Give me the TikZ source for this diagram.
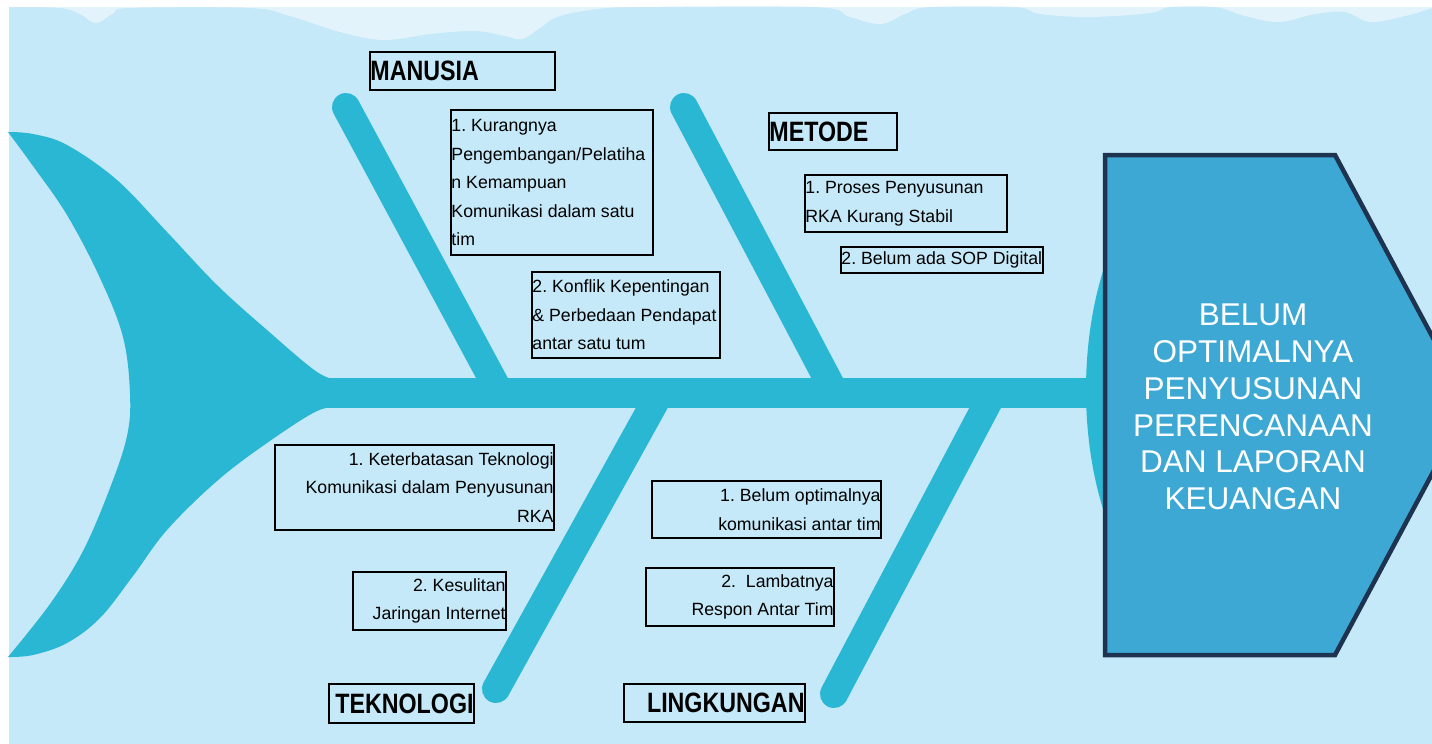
\documentclass[tikz,border=0pt]{standalone}
\usepackage{fontspec}
\setmainfont{Liberation Sans}
\newfontfamily\capfont[FakeStretch=0.83]{Liberation Sans Bold}

\definecolor{sea}{HTML}{C5E9F8}
\definecolor{foam}{HTML}{E2F3FB}
\definecolor{fishbone}{HTML}{2AB7D4}
\definecolor{headfill}{HTML}{3DA8D3}
\definecolor{headline}{HTML}{1D3350}

\tikzset{
  bone/.style={draw=fishbone, line width=28pt, line cap=round},
  frame/.style={draw=black, line width=2.5pt, inner sep=0pt},
  causetext/.style={inner xsep=1.5pt, inner ysep=0pt,
    font=\frenchspacing\fontsize{17.7}{28.5}\selectfont},
  cattext/.style={inner xsep=1.5pt, inner ysep=0pt,
    font=\capfont\fontsize{28}{30}\selectfont},
}

\begin{document}
\begin{tikzpicture}[x=1pt,y=-1pt]
\useasboundingbox (0,0) rectangle (1432,744);
\clip (0,0) rectangle (1432,744);
\fill[white] (0,0) rectangle (1432,744);
\fill[sea] (9,7) rectangle (1432,744);
\fill[foam] (9,7) -- plot[smooth,tension=0.6] coordinates {(9,7) (60,8) (80,14) (96,23) (114,13) (130,8)
  (250,8) (290,16) (340,32) (384,40) (430,34) (475,31) (505,36) (522,39) (540,28) (557,17) (590,10) (640,7)
  (815,7) (850,17) (881,24) (905,14) (930,7) (1015,7) (1040,14) (1090,17) (1150,13) (1170,7)
  (1215,7) (1245,16) (1279,22) (1315,14) (1345,12) (1370,22) (1405,16) (1432,8)} -- (1432,7) -- cycle;

% fish: head blob, tail, spine
\fill[fishbone] (1200,390) ellipse [x radius=114, y radius=226];
\fill[fishbone] (8,132)
  -- plot[smooth,tension=0.6] coordinates {(8,132) (33,134) (67,145) (117,180) (167,232) (217,285)
     (267,330) (317,372) (340,380)}
  -- (340,408)
  -- plot[smooth,tension=0.6] coordinates {(340,408) (317,411) (267,443) (217,481) (167,530) (133,576)
     (100,618) (67,643) (33,655) (8,657)}
  -- plot[smooth,tension=0.6] coordinates {(8,657) (50,604) (83,551) (110,488) (127,436) (130,394)
     (123,337) (100,278) (67,215) (33,166) (8,132)}
  -- cycle;
\fill[fishbone] (326,378) rectangle (1110,408);

\coordinate (manusiaTop) at (346,107);
\coordinate (manusiaEnd) at (500,393);
\coordinate (metodeTop) at (684,107);
\coordinate (metodeEnd) at (835,393);
\coordinate (teknologiEnd) at (660,393);
\coordinate (teknologiBot) at (496,689);
\coordinate (lingkunganEnd) at (993,393);
\coordinate (lingkunganBot) at (834,694);
\draw[bone] (manusiaTop) -- (manusiaEnd);
\draw[bone] (metodeTop) -- (metodeEnd);
\draw[bone] (teknologiEnd) -- (teknologiBot);
\draw[bone] (lingkunganEnd) -- (lingkunganBot);

% head
\filldraw[fill=headfill, draw=headline, line width=4.5pt, line join=miter]
  (1105,155) -- (1335,155) -- (1469,405) -- (1335,655) -- (1105,655) -- cycle;
\node[text=white, align=center, inner sep=0pt, font=\fontsize{31.5}{36.8}\selectfont] (effect) at (1253,407)
  {BELUM\\OPTIMALNYA\\PENYUSUNAN\\PERENCANAAN\\DAN LAPORAN\\KEUANGAN};

% categories
\node[frame, minimum width=185pt, minimum height=38pt] (manusia) at (462.5,71) {};
\node[cattext, anchor=west] (manusiaTxt) at (manusia.west) {MANUSIA};
\node[frame, minimum width=128pt, minimum height=37pt] (metode) at (833,131.5) {};
\node[cattext, anchor=west] (metodeTxt) at (metode.west) {METODE};
\node[frame, minimum width=145pt, minimum height=39pt] (teknologi) at (401.5,703.5) {};
\node[cattext, anchor=east] (teknologiTxt) at (teknologi.east) {TEKNOLOGI};
\node[frame, minimum width=181pt, minimum height=38pt] (lingkungan) at (714.5,703) {};
\node[cattext, anchor=east] (lingkunganTxt) at (lingkungan.east) {LINGKUNGAN};

% causes
\node[frame, minimum width=202pt, minimum height=145pt] (m1) at (552,182.5) {};
\node[causetext, anchor=west, align=left] (m1Txt) at (m1.west)
  {1. Kurangnya\\Pengembangan/Pelatiha\\n Kemampuan\\Komunikasi dalam satu\\tim};
\node[frame, minimum width=188pt, minimum height=86pt] (m2) at (626,315) {};
\node[causetext, anchor=west, align=left] (m2Txt) at (m2.west)
  {2. Konflik Kepentingan\\\& Perbedaan Pendapat\\antar satu tum};
\node[frame, minimum width=202pt, minimum height=57pt] (d1) at (906,203.5) {};
\node[causetext, anchor=west, align=left] (d1Txt) at (d1.west)
  {1. Proses Penyusunan\\RKA Kurang Stabil};
\node[frame, minimum width=202pt, minimum height=26pt] (d2) at (942,260) {};
\node[causetext, anchor=west, align=left] (d2Txt) at (d2.west) {2. Belum ada SOP Digital};
\node[frame, minimum width=279pt, minimum height=85pt] (t1) at (414.5,487.5) {};
\node[causetext, anchor=east, align=right] (t1Txt) at (t1.east)
  {1. Keterbatasan Teknologi\\Komunikasi dalam Penyusunan\\RKA};
\node[frame, minimum width=153pt, minimum height=58pt] (t2) at (429.5,601) {};
\node[causetext, anchor=east, align=right] (t2Txt) at (t2.east)
  {2. Kesulitan\\Jaringan Internet};
\node[frame, minimum width=229pt, minimum height=57pt] (l1) at (766.5,509.5) {};
\node[causetext, anchor=east, align=right] (l1Txt) at (l1.east)
  {1. Belum optimalnya\\komunikasi antar tim};
\node[frame, minimum width=188pt, minimum height=58pt] (l2) at (740,597) {};
\node[causetext, anchor=east, align=right] (l2Txt) at (l2.east)
  {2.\ \ Lambatnya\\Respon Antar Tim};
\end{tikzpicture}
\end{document}
